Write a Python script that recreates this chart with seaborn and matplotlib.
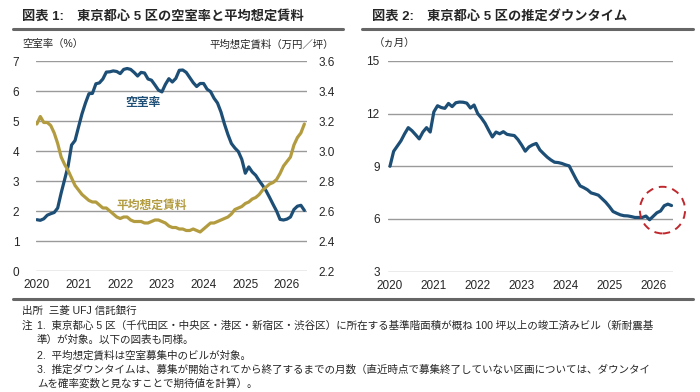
import numpy as np
import pandas as pd
import matplotlib
matplotlib.use("Agg")
import matplotlib.pyplot as plt
from matplotlib.lines import Line2D
from matplotlib.patches import Ellipse
import seaborn as sns

# ---------------- data ----------------
months = pd.date_range("2020-01-01", periods=78, freq="MS")

vacancy = [1.71, 1.69, 1.74, 1.86, 1.91, 1.95, 2.10, 2.60, 3.05, 3.50,
           4.20, 4.35, 4.80, 5.24, 5.60, 5.91, 5.92, 6.24, 6.27, 6.40,
           6.63, 6.64, 6.67, 6.65, 6.58, 6.72, 6.75, 6.72, 6.62, 6.50,
           6.62, 6.60, 6.40, 6.36, 6.20, 6.03, 5.97, 6.22, 6.41, 6.30,
           6.42, 6.69, 6.70, 6.62, 6.45, 6.28, 6.15, 6.25, 6.25, 6.06,
           5.98, 5.76, 5.60, 5.30, 4.90, 4.55, 4.25, 4.10, 3.98, 3.72,
           3.26, 3.47, 3.30, 3.19, 3.01, 2.85, 2.67, 2.45, 2.22, 2.00,
           1.72, 1.70, 1.73, 1.80, 2.05, 2.16, 2.19, 2.02]

rent = [3.18, 3.23, 3.19, 3.19, 3.17, 3.12, 3.05, 2.96, 2.91, 2.87,
        2.82, 2.77, 2.74, 2.71, 2.69, 2.67, 2.66, 2.66, 2.64, 2.62,
        2.62, 2.60, 2.58, 2.56, 2.55, 2.56, 2.56, 2.54, 2.53, 2.53,
        2.53, 2.52, 2.52, 2.53, 2.54, 2.54, 2.53, 2.52, 2.50, 2.49,
        2.49, 2.48, 2.48, 2.47, 2.47, 2.48, 2.47, 2.46, 2.48, 2.50,
        2.52, 2.52, 2.53, 2.54, 2.55, 2.56, 2.58, 2.61, 2.62, 2.63,
        2.65, 2.66, 2.68, 2.69, 2.71, 2.74, 2.76, 2.78, 2.79, 2.81,
        2.85, 2.90, 2.93, 2.96, 3.04, 3.09, 3.12, 3.18]

downtime = [9.00, 9.85, 10.15, 10.45, 10.85, 11.20, 11.03, 10.80, 10.56, 10.95,
            11.20, 10.95, 12.10, 12.45, 12.35, 12.30, 12.58, 12.40, 12.62, 12.66,
            12.65, 12.60, 12.32, 12.49, 12.00, 11.75, 11.45, 11.05, 10.67, 10.95,
            10.85, 10.97, 10.82, 10.78, 10.75, 10.52, 10.21, 9.86, 10.10, 10.22,
            10.30, 9.93, 9.72, 9.52, 9.36, 9.23, 9.21, 9.16, 9.08, 9.02,
            8.62, 8.22, 7.88, 7.78, 7.66, 7.48, 7.42, 7.35, 7.15, 6.95,
            6.70, 6.42, 6.32, 6.23, 6.18, 6.17, 6.13, 6.08, 6.08, 6.08,
            6.16, 5.95, 6.15, 6.35, 6.45, 6.75, 6.84, 6.76]

year_ticks = [2020, 2021, 2022, 2023, 2024, 2025, 2026]
left_yticks = [0, 1, 2, 3, 4, 5, 6, 7]
right_yticks = [2.2, 2.4, 2.6, 2.8, 3.0, 3.2, 3.4, 3.6]
dt_yticks = [3, 6, 9, 12, 15]

title1 = "図表 1:　東京都心 5 区の空室率と平均想定賃料"
title2 = "図表 2:　東京都心 5 区の推定ダウンタイム"

# ---------------- style ----------------
sns.set_style("white")
plt.rcParams["font.family"] = ["Liberation Sans", "Noto Sans CJK JP", "DejaVu Sans"]

BLUE = "#1d4e76"
GOLD = "#b39c40"
GRID = "#9a9a9a"
RULE = "#666666"

xdec = months.year + (months.month - 1) / 12.0
df = pd.DataFrame({"x": xdec, "vacancy": vacancy, "rent": rent, "downtime": downtime})

fig = plt.figure(figsize=(7.0, 3.92), dpi=100)

def px(xp, yp_top, w, h):
    return [xp / 700, 1 - (yp_top + h) / 392, w / 700, h / 392]

ax1 = fig.add_axes(px(36, 61, 271, 210))
ax1r = ax1.twinx()
ax2 = fig.add_axes(px(388, 61, 285, 210.5))

# left chart
sns.lineplot(data=df, x="x", y="vacancy", ax=ax1, color=BLUE, lw=2.3, zorder=3)
sns.lineplot(data=df, x="x", y="rent", ax=ax1r, color=GOLD, lw=2.3, zorder=3)

ax1.set_xlim(2019.98, 2026.48)
ax1.set_ylim(0, 7)
ax1r.set_ylim(2.2, 3.6)
ax1.set_yticks(left_yticks)
ax1r.set_yticks(right_yticks)
ax1r.set_yticklabels([f"{v:.1f}" for v in right_yticks])
ax1.set_xticks(year_ticks)
ax1.yaxis.grid(True, color=GRID, lw=1.0)
ax1.set_axisbelow(True)
for a in (ax1, ax1r):
    a.set_xlabel("")
    a.set_ylabel("")
    for s in a.spines.values():
        s.set_visible(False)
ax1.tick_params(axis="y", length=0, pad=12, labelsize=8.5)
ax1r.tick_params(axis="y", length=0, pad=8, labelsize=8.5)
ax1.tick_params(axis="x", length=0, pad=6, labelsize=8.5)

ax1.text(2022.55, 5.6, "空室率", color=BLUE, fontsize=8.5, fontweight="bold",
         ha="center", va="center")
ax1r.text(2022.75, 2.635, "平均想定賃料", color=GOLD, fontsize=8.5, fontweight="bold",
          ha="center", va="center")

# right chart
sns.lineplot(data=df, x="x", y="downtime", ax=ax2, color=BLUE, lw=2.3, zorder=3)
ax2.set_xlim(2019.955, 2026.45)
ax2.set_ylim(3, 15)
ax2.set_yticks(dt_yticks)
ax2.set_xticks(year_ticks)
ax2.yaxis.grid(True, color=GRID, lw=1.0)
ax2.set_axisbelow(True)
ax2.set_xlabel("")
ax2.set_ylabel("")
for s in ax2.spines.values():
    s.set_visible(False)
ax2.tick_params(axis="y", length=0, pad=6, labelsize=8.5)
ax2.tick_params(axis="x", length=0, pad=6, labelsize=8.5)
ax2.add_patch(Ellipse((2026.21, 6.5), 1.03, 2.66, fill=False, ec="#c0282d",
                      lw=1.4, ls=(0, (4, 3)), zorder=4, clip_on=False))

# titles and rules
fig.text(22 / 700, 1 - 16 / 392, title1, fontsize=9.5, fontweight="bold",
         va="center", ha="left")
fig.text(372 / 700, 1 - 16 / 392, title2, fontsize=9.5, fontweight="bold",
         va="center", ha="left")
fig.add_artist(Line2D([13 / 700, 343 / 700], [1 - 29 / 392] * 2, color=RULE, lw=2.2))
fig.add_artist(Line2D([362 / 700, 693 / 700], [1 - 29 / 392] * 2, color=RULE, lw=2.2))
fig.add_artist(Line2D([13 / 700, 693 / 700], [1 - 298.5 / 392] * 2, color=RULE, lw=2.2))

fig.text(22 / 700, 1 - 44 / 392, "空室率（%）", fontsize=7.5, va="center", ha="left")
fig.text(334 / 700, 1 - 44 / 392, "平均想定賃料（万円／坪）", fontsize=7.5, va="center", ha="right")
fig.text(374 / 700, 1 - 44 / 392, "（ヵ月）", fontsize=7.5, va="center", ha="left")

# footer
fs = 7.6
fig.text(22 / 700, 1 - 311 / 392, "出所  三菱 UFJ 信託銀行", fontsize=fs, va="center")
fig.text(22 / 700, 1 - 326 / 392, "注", fontsize=fs, va="center")
fig.text(37 / 700, 1 - 326 / 392,
         "1.  東京都心 5 区（千代田区・中央区・港区・新宿区・渋谷区）に所在する基準階面積が概ね 100 坪以上の竣工済みビル（新耐震基",
         fontsize=fs, va="center")
fig.text(37 / 700, 1 - 340 / 392, "準）が対象。以下の図表も同様。", fontsize=fs, va="center")
fig.text(37 / 700, 1 - 355 / 392, "2.  平均想定賃料は空室募集中のビルが対象。", fontsize=fs, va="center")
fig.text(37 / 700, 1 - 370 / 392,
         "3.  推定ダウンタイムは、募集が開始されてから終了するまでの月数（直近時点で募集終了していない区画については、ダウンタイ",
         fontsize=fs, va="center")
fig.text(37 / 700, 1 - 384 / 392, "ムを確率変数と見なすことで期待値を計算）。", fontsize=fs, va="center")

fig.savefig("out.png", dpi=100, facecolor="white")
